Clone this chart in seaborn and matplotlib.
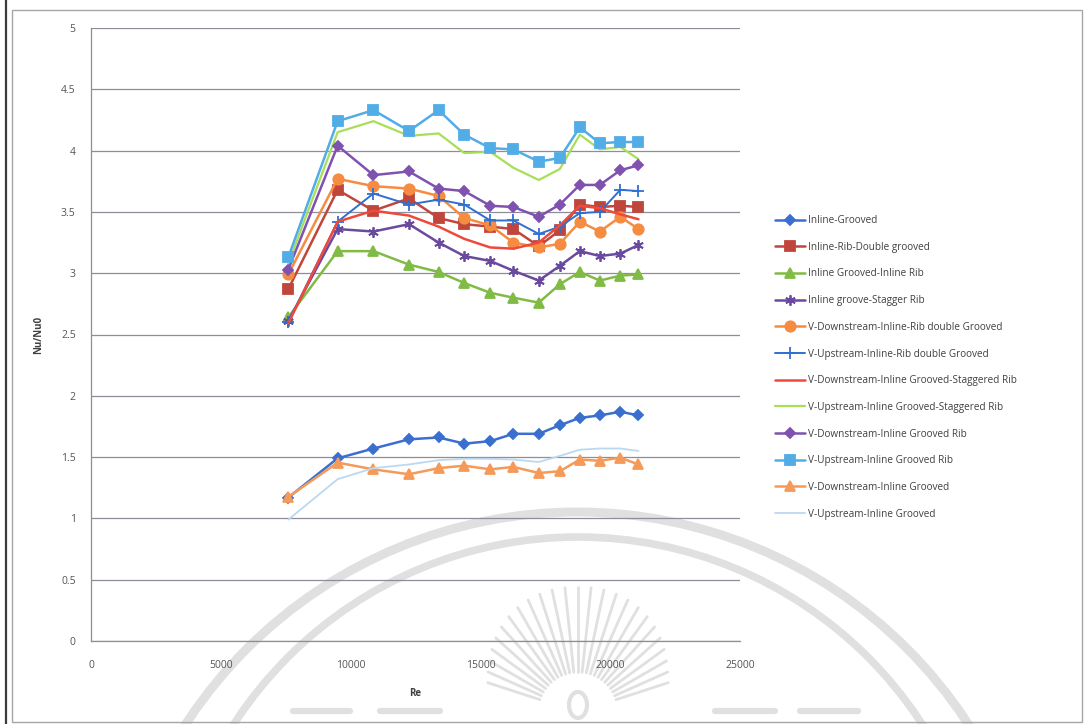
import numpy as np
import pandas as pd
import matplotlib
matplotlib.use("Agg")
import matplotlib.pyplot as plt
from matplotlib.patches import Rectangle, Arc, Ellipse
import seaborn as sns

# Reynolds numbers shared by every configuration
re_values = [7600, 9500, 10880, 12250, 13390, 14380, 15380, 16270,
             17250, 18060, 18830, 19600, 20390, 21090]

inline_grooved = [1.17, 1.49, 1.57, 1.645, 1.66, 1.61, 1.63, 1.69,
                  1.69, 1.76, 1.82, 1.84, 1.87, 1.84]
inline_rib_double_grooved = [2.87, 3.68, 3.51, 3.61, 3.45, 3.40, 3.38, 3.36,
                             3.22, 3.35, 3.56, 3.54, 3.55, 3.54]
inline_grooved_inline_rib = [2.64, 3.18, 3.18, 3.07, 3.01, 2.92, 2.84, 2.80,
                             2.76, 2.91, 3.01, 2.94, 2.98, 2.99]
inline_groove_stagger_rib = [2.61, 3.36, 3.34, 3.40, 3.25, 3.14, 3.10, 3.02,
                             2.94, 3.06, 3.18, 3.14, 3.16, 3.23]
vdown_inline_rib_double_grooved = [2.99, 3.77, 3.71, 3.69, 3.63, 3.45, 3.39, 3.25,
                                   3.21, 3.24, 3.42, 3.34, 3.46, 3.36]
vup_inline_rib_double_grooved = [2.60, 3.42, 3.65, 3.56, 3.60, 3.56, 3.43, 3.43,
                                 3.32, 3.38, 3.49, 3.50, 3.68, 3.67]
vdown_inline_grooved_staggered_rib = [2.59, 3.42, 3.51, 3.47, 3.38, 3.28, 3.21, 3.20,
                                      3.25, 3.39, 3.55, 3.53, 3.48, 3.44]
vup_inline_grooved_staggered_rib = [3.08, 4.15, 4.24, 4.12, 4.14, 3.98, 3.99, 3.86,
                                    3.76, 3.85, 4.13, 4.01, 4.03, 3.93]
vdown_inline_grooved_rib = [3.03, 4.04, 3.80, 3.83, 3.69, 3.67, 3.55, 3.54,
                            3.46, 3.56, 3.72, 3.72, 3.84, 3.88]
vup_inline_grooved_rib = [3.13, 4.24, 4.33, 4.16, 4.33, 4.13, 4.02, 4.01,
                          3.91, 3.94, 4.19, 4.06, 4.07, 4.07]
vdown_inline_grooved = [1.175, 1.455, 1.40, 1.36, 1.41, 1.43, 1.40, 1.42,
                        1.37, 1.385, 1.48, 1.47, 1.495, 1.44]
vup_inline_grooved = [0.99, 1.32, 1.41, 1.44, 1.475, 1.486, 1.486, 1.48,
                      1.46, 1.51, 1.56, 1.57, 1.57, 1.55]

series_names = [
    "Inline-Grooved",
    "Inline-Rib-Double grooved",
    "Inline Grooved-Inline Rib",
    "Inline groove-Stagger Rib",
    "V-Downstream-Inline-Rib double Grooved",
    "V-Upstream-Inline-Rib double Grooved",
    "V-Downstream-Inline Grooved-Staggered Rib",
    "V-Upstream-Inline Grooved-Staggered Rib",
    "V-Downstream-Inline Grooved Rib",
    "V-Upstream-Inline Grooved Rib",
    "V-Downstream-Inline Grooved",
    "V-Upstream-Inline Grooved",
]
series_values = [
    inline_grooved, inline_rib_double_grooved, inline_grooved_inline_rib,
    inline_groove_stagger_rib, vdown_inline_rib_double_grooved,
    vup_inline_rib_double_grooved, vdown_inline_grooved_staggered_rib,
    vup_inline_grooved_staggered_rib, vdown_inline_grooved_rib,
    vup_inline_grooved_rib, vdown_inline_grooved, vup_inline_grooved,
]

# (colour, marker, marker size, line width)
styles = [
    ("#3a6fd0", "D", 5.5, 1.8),
    ("#c0463c", "s", 7.5, 1.8),
    ("#80bb45", "^", 6.5, 1.8),
    ("#6a4a9e", (6, 2, 0), 7.5, 1.8),
    ("#f58c42", "o", 7.5, 1.8),
    ("#2f6fd2", "+", 9.0, 1.4),
    ("#ee4a3c", None, 0, 1.8),
    ("#a8de58", None, 0, 1.6),
    ("#8052b0", "D", 5.5, 1.8),
    ("#52ace6", "s", 7.5, 1.8),
    ("#f59a58", "^", 6.5, 1.8),
    ("#bcd8f0", None, 0, 1.3),
]

frames = []
for name, vals in zip(series_names, series_values):
    frames.append(pd.DataFrame({"Re": re_values, "ratio": vals, "series": name}))
data = pd.concat(frames, ignore_index=True)

sns.set_theme(style="white")
plt.rcParams["font.family"] = ["Open Sans", "DejaVu Sans"]

W, H = 1087, 724
fig = plt.figure(figsize=(W / 100, H / 100), dpi=100)
fig.patch.set_facecolor("white")

# faint page seal behind the chart (pixel coordinates, y downwards)
bg = fig.add_axes([0, 0, 1, 1], zorder=0)
bg.set_xlim(0, W)
bg.set_ylim(H, 0)
bg.axis("off")
seal = "#e0e0e0"
bg.add_patch(Arc((577, 979), 2 * 467, 2 * 467, theta1=180, theta2=360,
                 color=seal, linewidth=6.5))
bg.add_patch(Arc((578, 947), 2 * 410, 2 * 410, theta1=180, theta2=360,
                 color=seal, linewidth=5.5))
sun_x, sun_y = 578, 712
for ang in np.linspace(18, 162, 25):
    a = np.deg2rad(ang)
    r_out = 125 - 35 * abs(np.cos(a)) ** 3
    bg.plot([sun_x + 40 * np.cos(a), sun_x + r_out * np.cos(a)],
            [sun_y - 40 * np.sin(a), sun_y - r_out * np.sin(a)],
            color=seal, linewidth=2.0, solid_capstyle="round")
bg.add_patch(Ellipse((578, 705), 18, 26, fill=False, edgecolor=seal, linewidth=3))
for x0, x1 in [(293, 350), (380, 440), (715, 775), (800, 858)]:
    bg.plot([x0, x1], [711, 711], color=seal, linewidth=4.5, solid_capstyle="round")

# outer chart frame and page edge
bg.add_patch(Rectangle((12, 10), 1070, 712, fill=False,
                       edgecolor="#a6a6a6", linewidth=1.0))
bg.plot([6, 6], [0, H], color="#3c3c3c", linewidth=1.6)

ax = fig.add_axes([91 / W, 1 - 641 / H, 649 / W, 613 / H], zorder=1)
ax.patch.set_alpha(0)

for (name, (color, marker, ms, lw)) in zip(series_names, styles):
    sub = data[data["series"] == name]
    kw = dict(color=color, linewidth=lw)
    if marker is not None:
        kw.update(marker=marker, markersize=ms, markeredgecolor=color,
                  markerfacecolor=color, markeredgewidth=1.3)
    sns.lineplot(data=sub, x="Re", y="ratio", ax=ax, label=name, **kw)

ax.set_xlim(0, 25000)
ax.set_ylim(0, 5)
ax.set_xticks(np.arange(0, 25001, 5000))
ax.set_yticks(np.arange(0, 5.01, 0.5))
ax.set_xticklabels(["0", "5000", "10000", "15000", "20000", "25000"])
ax.set_yticklabels(["0", "0.5", "1", "1.5", "2", "2.5", "3", "3.5", "4", "4.5", "5"])
ax.yaxis.grid(True, color="#8e8e9a", linewidth=0.9)
ax.xaxis.grid(False)
ax.set_axisbelow(True)
for side in ["right", "top"]:
    ax.spines[side].set_visible(False)
for side in ["left", "bottom"]:
    ax.spines[side].set_color("#8e8e9a")
    ax.spines[side].set_linewidth(0.9)
ax.tick_params(axis="both", length=0, labelsize=7.5, labelcolor="#555555")
ax.tick_params(axis="y", pad=11)
ax.tick_params(axis="x", pad=14)

ax.set_xlabel("Re", fontsize=7, fontweight="bold", color="#404040", labelpad=12)
ax.set_ylabel("Nu/Nu0", fontsize=7, fontweight="bold", color="#404040", labelpad=12)

handles, labels = ax.get_legend_handles_labels()
leg = ax.legend(handles, labels, loc="upper left",
                bbox_to_anchor=(771 / W, 1 - 211 / H), bbox_transform=fig.transFigure,
                frameon=False, fontsize=7.2, labelspacing=1.57,
                handlelength=3.0, handletextpad=0.3, borderaxespad=0)
for t in leg.get_texts():
    t.set_color("#404040")

fig.savefig("out.png", dpi=100, facecolor="white")
